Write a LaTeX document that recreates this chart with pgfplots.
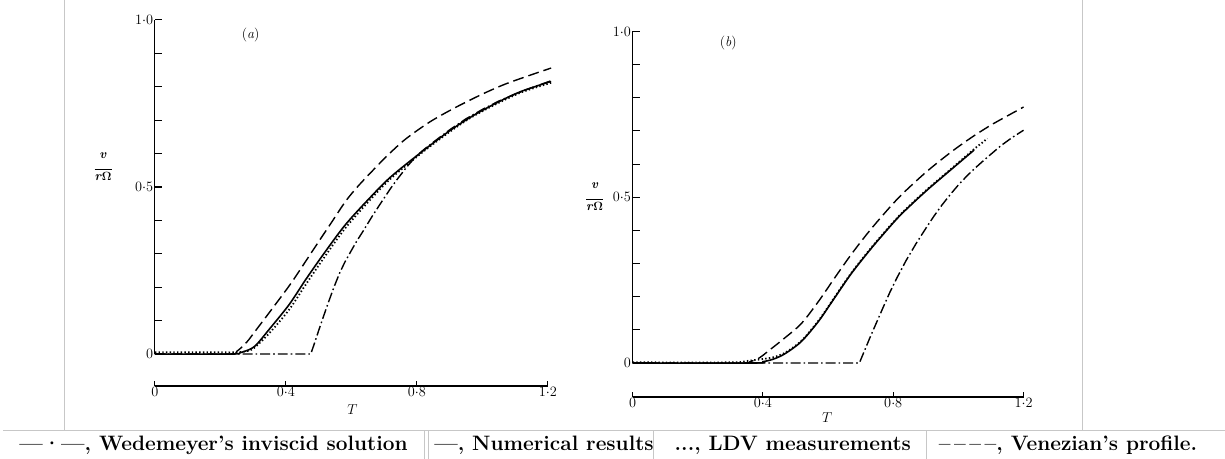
\documentclass[border=0pt]{standalone}
\usepackage{pgfplots}
\pgfplotsset{compat=1.18}
\usepackage{amsmath}
\begin{document}
\pgfplotsset{
  dataaxis/.style={
    scale only axis, clip=false,
    xmin=0, xmax=1.2, ymin=0, ymax=1,
    hide x axis, axis y line*=left,
    axis line style={line width=1.2bp},
    ytick={0,0.5,1}, yticklabels={\ensuremath{0},\ensuremath{0{\cdot}5},\ensuremath{1{\cdot}0}},
    minor ytick={0.1,0.2,0.3,0.4,0.6,0.7,0.8,0.9},
    tick align=inside,
    major tick length=7bp, minor tick length=7bp,
    tick style={line width=1.1bp, black},
    tick label style={font=\fontsize{15}{16}\selectfont},
    yticklabel style={inner sep=1.5bp},
  },
  taxis/.style={
    scale only axis, clip=false,
    xmin=0, xmax=1.2, ymin=0, ymax=1, height=8bp,
    hide y axis, axis x line*=bottom,
    axis line style={line width=1.2bp},
    xtick={0,0.4,0.8,1.2}, xticklabels={\ensuremath{0},\ensuremath{0{\cdot}4},\ensuremath{0{\cdot}8},\ensuremath{1{\cdot}2}},
    tick align=inside, major tick length=5bp,
    tick style={line width=1.1bp, black},
    tick label style={font=\fontsize{15}{16}\selectfont},
    xticklabel style={inner sep=1.5bp},
  },
  wede/.style={black, line width=1.4bp, dash pattern=on 10bp off 3bp on 1.6bp off 3bp},
  numr/.style={black, line width=1.6bp, smooth, tension=0.5},
  ldv/.style={black, line width=1.8bp, dash pattern=on 1.4bp off 2.3bp, smooth, tension=0.5},
  vene/.style={black, line width=1.4bp, dash pattern=on 11bp off 5bp, smooth, tension=0.5},
}
\begin{tikzpicture}
\path[use as bounding box] (0bp,0bp) rectangle (1225bp,460bp);
% scan frame and legend cells
\begin{scope}[draw=black!22, line width=0.9bp]
\draw (61bp,460bp) -- (61bp,28bp);
\draw (1082bp,460bp) -- (1082bp,28bp);
\draw (0bp,28bp) -- (1225bp,28bp);
\draw (422bp,0bp) -- (422bp,28bp);
\draw (426bp,0bp) -- (426bp,28bp);
\draw (652bp,0bp) -- (652bp,28bp);
\draw (926bp,0bp) -- (926bp,28bp);
\end{scope}

% ---------------- panel (a)
\begin{axis}[dataaxis, at={(152bp,105bp)}, anchor=south west, width=394bp, height=335bp]
\addplot[vene] coordinates {(0,0) (0.2275,0) (0.25,0.008) (0.28,0.035) (0.309,0.072) (0.35,0.125) (0.41,0.204) (0.45,0.262) (0.491,0.323) (0.54,0.395) (0.583,0.458) (0.62,0.502) (0.664,0.548) (0.71,0.594) (0.765,0.643) (0.84,0.695) (0.918,0.738) (1.0,0.778) (1.07,0.808) (1.15,0.836) (1.21,0.856)};
\addplot[numr] coordinates {(0,0) (0.235,0) (0.26,0.004) (0.285,0.012) (0.309,0.027) (0.35,0.075) (0.41,0.148) (0.46,0.222) (0.512,0.295) (0.58,0.385) (0.654,0.465) (0.72,0.53) (0.816,0.606) (0.9,0.668) (0.969,0.712) (1.05,0.755) (1.121,0.787) (1.21,0.816)};
\addplot[ldv] coordinates {(0,0.005) (0.2,0.005) (0.24,0.005) (0.27,0.007) (0.3,0.016) (0.35,0.063) (0.41,0.133) (0.46,0.207) (0.512,0.282) (0.58,0.375) (0.654,0.458) (0.72,0.525) (0.816,0.603) (0.9,0.665) (0.969,0.71) (1.05,0.752) (1.121,0.784) (1.21,0.812)};
\addplot[wede] coordinates {(0,0) (0.476,0) (0.49,0.04) (0.50,0.07) (0.515,0.113) (0.53,0.155) (0.546,0.198) (0.563,0.24) (0.58,0.275) (0.60,0.31) (0.617,0.339) (0.634,0.365) (0.664,0.413) (0.694,0.458) (0.72,0.496) (0.74,0.523) (0.77,0.561) (0.796,0.59) (0.82,0.611) (0.85,0.634) (0.9,0.671) (0.95,0.704) (1.0,0.732) (1.05,0.757) (1.1,0.778) (1.15,0.797) (1.21,0.818)};
\end{axis}
\begin{axis}[taxis, at={(152bp,73bp)}, anchor=south west, width=394bp]
\end{axis}

% ---------------- panel (b)
\begin{axis}[dataaxis, at={(631bp,96bp)}, anchor=south west, width=392bp, height=332.5bp]
\addplot[vene] coordinates {(0,0) (0.33,0) (0.36,0.004) (0.39,0.016) (0.415,0.035) (0.46,0.07) (0.517,0.118) (0.57,0.185) (0.619,0.255) (0.67,0.326) (0.721,0.391) (0.77,0.448) (0.823,0.505) (0.9,0.575) (0.976,0.635) (1.04,0.68) (1.099,0.717) (1.15,0.745) (1.2,0.772)};
\addplot[numr] coordinates {(0,0) (0.37,0) (0.40,0.004) (0.43,0.011) (0.466,0.027) (0.517,0.064) (0.57,0.125) (0.619,0.195) (0.67,0.268) (0.726,0.338) (0.77,0.389) (0.823,0.447) (0.9,0.518) (0.976,0.582) (1.048,0.642)};
\addplot[ldv] coordinates {(0,0.002) (0.3,0.002) (0.35,0.006) (0.40,0.012) (0.43,0.017) (0.466,0.03) (0.517,0.066) (0.57,0.127) (0.619,0.197) (0.67,0.27) (0.726,0.34) (0.77,0.391) (0.823,0.449) (0.9,0.52) (0.976,0.584) (1.048,0.645) (1.07,0.662) (1.089,0.677)};
\addplot[wede] coordinates {(0,0) (0.696,0) (0.713,0.04) (0.73,0.08) (0.75,0.125) (0.77,0.17) (0.79,0.214) (0.813,0.26) (0.84,0.31) (0.87,0.36) (0.9,0.406) (0.925,0.443) (0.95,0.477) (0.975,0.508) (1.0,0.537) (1.028,0.566) (1.055,0.591) (1.08,0.613) (1.105,0.634) (1.13,0.655) (1.165,0.68) (1.2,0.702)};
\end{axis}
\begin{axis}[taxis, at={(631bp,62bp)}, anchor=south west, width=392bp]
\end{axis}

% ---------------- text labels
\node[font=\fontsize{14}{16}\selectfont] at (248bp,425bp) {(\textit{a})};
\node[font=\fontsize{14}{16}\selectfont] at (727bp,417bp) {(\textit{b})};
\node[font=\fontsize{15}{16}\selectfont] at (350bp,49bp) {$T$};
\node[font=\fontsize{15}{16}\selectfont] at (826bp,41bp) {$T$};
\node[font=\fontsize{13}{13}\selectfont\bfseries, align=center, inner sep=0pt] at (100bp,293bp)
  {\textit{v}\\[-2bp]\rule{17bp}{0.8bp}\\[-2bp]\textit{r}$\boldsymbol{\Omega}$};
\node[font=\fontsize{13}{13}\selectfont\bfseries, align=center, inner sep=0pt] at (593bp,263bp)
  {\textit{v}\\[-2bp]\rule{17bp}{0.8bp}\\[-2bp]\textit{r}$\boldsymbol{\Omega}$};

% ---------------- legend row (text, as in the source)
\begin{scope}[every node/.style={anchor=base west, inner sep=0pt, font=\fontsize{21}{24}\selectfont\bfseries}]
\node at (16bp,8bp) {—·—, Wedemeyer's inviscid solution};
\node at (432bp,8bp) {—, Numerical results};
\node at (673bp,8bp) {..., LDV measurements};
\node at (938bp,8bp) {–\,–\,–\,–, Venezian's profile.};
\end{scope}
\end{tikzpicture}
\end{document}
